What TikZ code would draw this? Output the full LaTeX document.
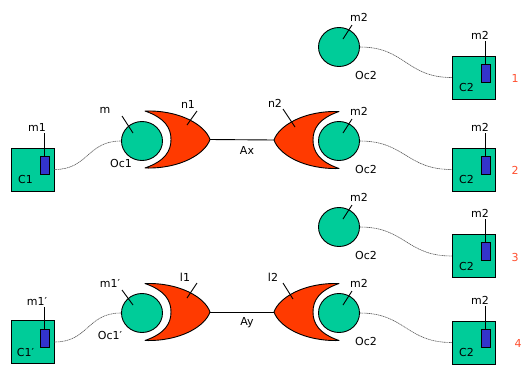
\documentclass[tikz,border=0pt]{standalone}
\usepackage{fontspec}
\setmainfont{DejaVu Sans}
\usetikzlibrary{shapes.geometric,calc}
\definecolor{cgreen}{RGB}{0,204,153}
\definecolor{cred}{RGB}{255,58,0}
\definecolor{cblue}{RGB}{51,51,204}
\definecolor{cnum}{RGB}{255,80,48}
\tikzset{
  base/.style={line width=0.9pt, draw=black},
  ball/.style={ellipse, base, fill=cgreen, minimum width=41pt, minimum height=39pt, inner sep=0pt},
  unit/.style={rectangle, base, fill=cgreen, minimum size=43pt, inner sep=0pt},
  chip/.style={rectangle, base, fill=cblue, minimum width=9pt, minimum height=18pt, inner sep=0pt},
  lbl/.style={font=\fontsize{11}{13}\selectfont, inner sep=0pt},
  num/.style={lbl, text=cnum},
  wire/.style={draw=black!65, line width=0.6pt, dash pattern=on 1.2pt off 0.6pt},
  pin/.style={line width=0.9pt},
  gate/.pic={
    \path[base, fill=cred, line join=round] (0,-28.5) .. controls (35,-29.5) and (60,-14.5) .. (65,0)
      .. controls (60,14.5) and (35,29.5) .. (0,28.5)
      .. controls (20,21.5) and (26,11.5) .. (26,0)
      .. controls (26,-11.5) and (20,-21.5) .. (0,-28.5) -- cycle;
    \coordinate (-tip) at (65,0);
  }
}
\begin{document}
\begin{tikzpicture}[x=1pt,y=-1pt]
\useasboundingbox (0,0) rectangle (522,365);
\fill[white] (0,0) rectangle (522,365);

% ---------- left side, upper ----------
\node[unit] (c1) at (32.5,169.5) {};
\node[chip] (chip1) at (44.5,165) {};
\draw[pin] (chip1.north) -- ++(0,-23);
\node[lbl] (lm1) at (37,127) {m1};
\node[lbl] at ($(c1.center)+(-7,10)$) {C1};

\node[ball] (m) at (142,141) {};
\node[lbl] (lm) at ($(m.center)+(-37,-31)$) {m};
\draw[pin] ($(m.center)+(-20,-25)$) -- ($(m.center)+(-9,-8)$);
\node[lbl] at ($(m.center)+(-21,22)$) {Oc1};
\draw[wire] (c1.east) to[out=0,in=180,looseness=1.2] (m.west);

\pic (n1) at (145,139.5) {gate};
\node[lbl] at (188,104) {n1};
\draw[pin] (197,111) -- (187,125);

\pic[xscale=-1] (n2) at (339,140) {gate};
\node[lbl] at (275,103) {n2};
\draw[pin] (283,109) -- (295,127);

\draw[pin] (n1-tip) -- (n2-tip);
\node[lbl] at (247,150) {Ax};

% ---------- left side, lower ----------
\node[unit] (c1p) at (32.5,342) {};
\node[chip] (chip1p) at (44.5,338) {};
\draw[pin] (chip1p.north) -- ++(0,-22);
\node[lbl] at (37,301) {m1′};
\node[lbl] at ($(c1p.center)+(-7,10)$) {C1′};

\node[ball] (mp) at (142,313) {};
\node[lbl] at ($(mp.center)+(-32,-30)$) {m1′};
\draw[pin] ($(mp.center)+(-20,-23)$) -- ($(mp.center)+(-9,-8)$);
\node[lbl] at ($(mp.center)+(-32,22)$) {Oc1′};
\draw[wire] (c1p.east) to[out=0,in=180,looseness=1.2] (mp.west);

\pic (l1) at (145,312) {gate};
\node[lbl] at (185,277) {l1};
\draw[pin] (197,283) -- (187,298);

\pic[xscale=-1] (l2) at (339,312) {gate};
\node[lbl] at (273,277) {l2};
\draw[pin] (283,283) -- (293,299);

\draw[pin] (l1-tip) -- (l2-tip);
\node[lbl] at (247,323) {Ay};

% ---------- right side, four rows ----------
\foreach \i/\cy/\by/\nx in {1/47/77.5/515, 2/141/169.5/515, 3/227/256/515, 4/313/342.5/518}{
  \node[ball] (k\i) at (339,\cy) {};
  \node[lbl] at ($(k\i.center)+(20,-30)$) {m2};
  \draw[pin] ($(k\i.center)+(13,-22)$) -- ($(k\i.center)+(4,-8)$);
  \node[lbl] at ($(k\i.center)+(27,28)$) {Oc2};
  \node[unit] (b\i) at (473.5,\by) {};
  \node[chip] (ch\i) at ($(b\i.center)+(12,-4.5)$) {};
  \draw[pin] (ch\i.north) -- ++(0,-23);
  \node[lbl] at ($(b\i.center)+(6.5,-42.5)$) {m2};
  \node[lbl] at ($(b\i.center)+(-7,10)$) {C2};
  \draw[wire] (k\i.east) to[out=0,in=180,looseness=1.2] (b\i.west);
  \node[num] at (\nx,\by+1) {\i};
}
\end{tikzpicture}
\end{document}
